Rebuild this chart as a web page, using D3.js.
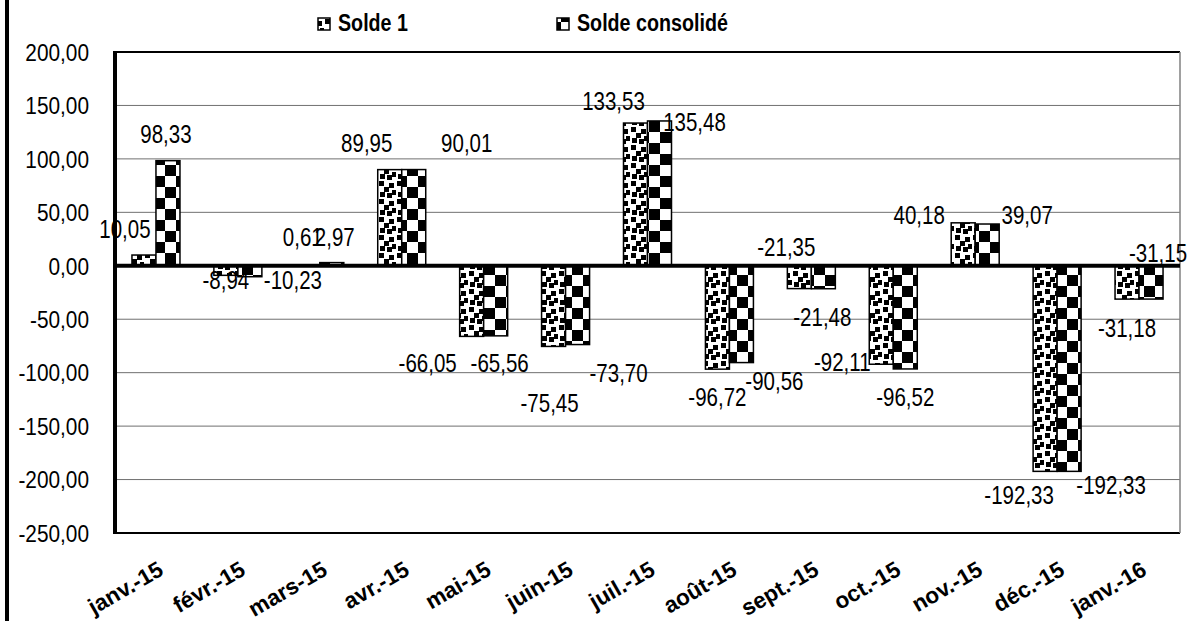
<!DOCTYPE html>
<html>
<head>
<meta charset="utf-8">
<script src="https://cdn.jsdelivr.net/npm/d3@7/dist/d3.min.js"></script>
<style>
  html, body { margin: 0; padding: 0; background: #fff; }
  svg { display: block; }
  text { font-family: "Liberation Sans", Arial, sans-serif; }
</style>
</head>
<body>
<svg id="chart" width="1190" height="621"></svg>
<script>
// ---------- data ----------
const categories = ["janv.-15","févr.-15","mars-15","avr.-15","mai-15","juin-15","juil.-15","août-15","sept.-15","oct.-15","nov.-15","déc.-15","janv.-16"];
const seriesNames = ["Solde 1", "Solde consolidé"];
const solde1 = [10.05, -8.94, 0.61, 89.95, -66.05, -75.45, 133.53, -96.72, -21.35, -92.11, 40.18, -192.33, -31.18];
const soldeConsolide = [98.33, -10.23, 2.97, 90.01, -65.56, -73.70, 135.48, -90.56, -21.48, -96.52, 39.07, -192.33, -31.15];
const yTicks = [-250, -200, -150, -100, -50, 0, 50, 100, 150, 200];

// label nudges (pixels, relative to bar end) – layout only
const lbl1dx = [-19, 0, -5, -23, -44, -4, -22, 0, -13, -39, -44, -26, 0];
const lbl1dy = [-17, 14, -19, -18, 36, 66, -13, 37, -33, 7, 1, 33, 38];
const lbl2dx = [-2, 43, 3, 53, 4, 41, 35, 33, -1, 0, 40, 42, 7];
const lbl2dy = [-18, 12, -17, -18, 36, 37, 10, 27, 37, 37, 0, 23, -37];

// ---------- layout ----------
const W = 1190, H = 621;
const plot = { left: 115, right: 1180, top: 52, bottom: 533 };
const NARROW = 0.82;

const svg = d3.select("#chart");
const fr = d3.formatLocale({ decimal: ",", thousands: " ", grouping: [3], currency: ["", "€"], minus: "-" });
const fmt = fr.format(".2f");

// patterns
const defs = svg.append("defs");
const pConf = defs.append("pattern").attr("id", "confetti")
  .attr("patternUnits", "userSpaceOnUse").attr("width", 18).attr("height", 18);
pConf.append("rect").attr("width", 18).attr("height", 18).attr("fill", "#fff");
[[1,1],[11,3],[6,7],[14,10],[2,12],[9,13]].forEach(([x,y]) => {
  pConf.append("rect").attr("x", x).attr("y", y).attr("width", 5).attr("height", 5).attr("fill", "#000");
});
const pCheck = defs.append("pattern").attr("id", "checker")
  .attr("patternUnits", "userSpaceOnUse").attr("width", 22).attr("height", 22);
pCheck.append("rect").attr("width", 22).attr("height", 22).attr("fill", "#fff");
pCheck.append("rect").attr("x", 0).attr("y", 0).attr("width", 11).attr("height", 11).attr("fill", "#000");
pCheck.append("rect").attr("x", 11).attr("y", 11).attr("width", 11).attr("height", 11).attr("fill", "#000");
const fills = ["url(#confetti)", "url(#checker)"];

// scales
const x0 = d3.scaleBand().domain(categories).range([plot.left, plot.right]).paddingInner(0).paddingOuter(0);
const bw = x0.bandwidth() * 24 / 81.92;
const x1 = d3.scaleBand().domain(seriesNames).range([0, bw * 2]);
const y = d3.scaleLinear().domain([-250, 200]).range([plot.bottom, plot.top]);
const barX = (i, s) => x0(categories[i]) + (x0.bandwidth() - bw * 2) / 2 + x1(seriesNames[s]);

// left page border
svg.append("line").attr("x1", 7).attr("x2", 7).attr("y1", 0).attr("y2", H)
  .attr("stroke", "#000").attr("stroke-width", 4);

// gridlines
svg.append("g").selectAll("line").data(yTicks.filter(t => t !== 0 && t !== -250 && t !== 200)).join("line")
  .attr("x1", plot.left).attr("x2", plot.right)
  .attr("y1", d => y(d)).attr("y2", d => y(d))
  .attr("stroke", "#707070").attr("stroke-width", 1);

// plot borders
svg.append("line").attr("x1", plot.left).attr("x2", plot.right).attr("y1", y(200)).attr("y2", y(200))
  .attr("stroke", "#000").attr("stroke-width", 2);
svg.append("line").attr("x1", plot.left).attr("x2", plot.right).attr("y1", y(-250)).attr("y2", y(-250))
  .attr("stroke", "#000").attr("stroke-width", 2);
svg.append("line").attr("x1", plot.right).attr("x2", plot.right).attr("y1", y(200)).attr("y2", y(-250))
  .attr("stroke", "#808080").attr("stroke-width", 1.5);

// bars
const seriesData = [solde1, soldeConsolide];
const barsG = svg.append("g");
seriesData.forEach((vals, s) => {
  barsG.append("g").selectAll("rect").data(vals).join("rect")
    .attr("x", (d, i) => barX(i, s))
    .attr("width", x1.bandwidth())
    .attr("y", d => y(Math.max(0, d)))
    .attr("height", d => Math.abs(y(d) - y(0)))
    .attr("fill", fills[s])
    .attr("stroke", "#000").attr("stroke-width", 1.5);
});

// zero line and y axis line
svg.append("line").attr("x1", plot.left).attr("x2", plot.right).attr("y1", y(0)).attr("y2", y(0))
  .attr("stroke", "#000").attr("stroke-width", 4);
svg.append("line").attr("x1", plot.left).attr("x2", plot.left).attr("y1", y(200) - 1).attr("y2", y(-250) + 1)
  .attr("stroke", "#000").attr("stroke-width", 4);

// y tick labels
svg.append("g").selectAll("text").data(yTicks).join("text")
  .attr("transform", d => `translate(89,${y(d)}) scale(0.85,1)`)
  .attr("dy", "0.36em")
  .attr("text-anchor", "end")
  .attr("font-size", 24.5)
  .attr("fill", "#000")
  .text(d => fmt(d));

// x labels
svg.append("g").selectAll("text").data(categories).join("text")
  .attr("transform", d => `translate(${x0(d) + x0.bandwidth() / 2 + 9},${574}) rotate(-30)`)
  .attr("text-anchor", "end")
  .attr("font-size", 22.5)
  .attr("font-weight", "bold")
  .attr("fill", "#000")
  .text(d => d);

// data labels
const dxs = [lbl1dx, lbl2dx], dys = [lbl1dy, lbl2dy];
seriesData.forEach((vals, s) => {
  svg.append("g").selectAll("text").data(vals).join("text")
    .attr("transform", (d, i) => `translate(${barX(i, s) + x1.bandwidth() / 2 + dxs[s][i]},${y(d) + dys[s][i]}) scale(${NARROW},1)`)
    .attr("text-anchor", "middle")
    .attr("font-size", 25)
    .attr("fill", "#000")
    .text(d => fmt(d));
});

// legend
const legendX = [318, 557];
const leg = svg.append("g");
seriesNames.forEach((name, s) => {
  leg.append("rect").attr("x", legendX[s]).attr("y", 18).attr("width", 12).attr("height", 12)
    .attr("fill", fills[s]).attr("stroke", "#000").attr("stroke-width", 1.5);
  leg.append("text").attr("transform", `translate(${legendX[s] + 20},31) scale(${NARROW},1)`)
    .attr("font-size", 24).attr("font-weight", "bold").attr("fill", "#000").text(name);
});
</script>
</body>
</html>
